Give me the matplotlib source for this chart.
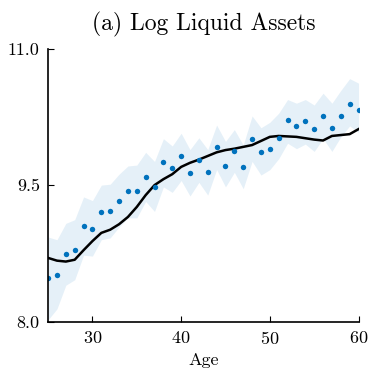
import numpy as np
import matplotlib
matplotlib.use("Agg")
import matplotlib.pyplot as plt

plt.rcParams['font.family'] = 'serif'
plt.rcParams['font.serif'] = ['cmr10']
plt.rcParams['mathtext.fontset'] = 'cm'
plt.rcParams['axes.formatter.use_mathtext'] = True

# données
age = np.arange(25, 61)
data_mean = [8.475, 8.51, 8.745, 8.79, 9.05, 9.02, 9.20, 9.22, 9.33, 9.43,
             9.43, 9.59, 9.48, 9.75, 9.69, 9.815, 9.63, 9.78, 9.645, 9.92,
             9.71, 9.87, 9.70, 10.01, 9.86, 9.90, 10.02, 10.21, 10.145, 10.20,
             10.12, 10.255, 10.13, 10.26, 10.39, 10.33]
data_upper = [8.93, 8.90, 9.08, 9.12, 9.37, 9.33, 9.50, 9.51, 9.62, 9.71,
              9.72, 9.86, 9.76, 10.01, 9.93, 10.07, 9.89, 10.02, 9.89, 10.16,
              9.98, 10.11, 9.94, 10.26, 10.13, 10.19, 10.29, 10.44, 10.40, 10.44,
              10.38, 10.51, 10.40, 10.54, 10.67, 10.62]
data_lower = [8.02, 8.14, 8.40, 8.46, 8.73, 8.72, 8.90, 8.92, 9.04, 9.14,
              9.14, 9.32, 9.21, 9.48, 9.42, 9.55, 9.38, 9.53, 9.39, 9.67,
              9.48, 9.64, 9.46, 9.76, 9.61, 9.67, 9.79, 9.96, 9.90, 9.95,
              9.87, 10.01, 9.87, 10.03, 10.15, 10.08]
model = [8.70, 8.67, 8.66, 8.68, 8.785, 8.885, 8.975, 9.01, 9.07, 9.15,
         9.26, 9.39, 9.50, 9.565, 9.62, 9.70, 9.745, 9.78, 9.82, 9.86,
         9.885, 9.90, 9.92, 9.94, 9.985, 10.03, 10.04, 10.035, 10.03, 10.015,
         10.00, 9.99, 10.04, 10.05, 10.06, 10.115]

blue = '#0072BD'

fig = plt.figure(figsize=(3.70, 3.68), dpi=100)
ax = fig.add_axes([0.130, 0.126, 0.839, 0.742])

ax.fill_between(age, data_lower, data_upper, color=blue, alpha=0.1, linewidth=0)
ax.plot(age, model, color='black', linewidth=1.8)
ax.plot(age, data_mean, 'o', color=blue, markersize=3.9, markeredgewidth=0)

ax.set_xlim(25, 60)
ax.set_ylim(8.0, 11.0)
ax.set_xticks([30, 40, 50, 60])
ax.set_yticks([8.0, 9.5, 11.0])
ax.set_yticklabels(['8.0', '9.5', '11.0'])
ax.tick_params(direction='in', length=4, width=0.8, labelsize=13, pad=6)
ax.spines['top'].set_visible(False)
ax.spines['right'].set_visible(False)
ax.spines['left'].set_linewidth(1.2)
ax.spines['bottom'].set_linewidth(1.2)

ax.set_xlabel('Age', fontsize=13, labelpad=4)
ax.set_title('(a) Log Liquid Assets', fontsize=17, pad=13)

fig.savefig('out.png', dpi=100)
